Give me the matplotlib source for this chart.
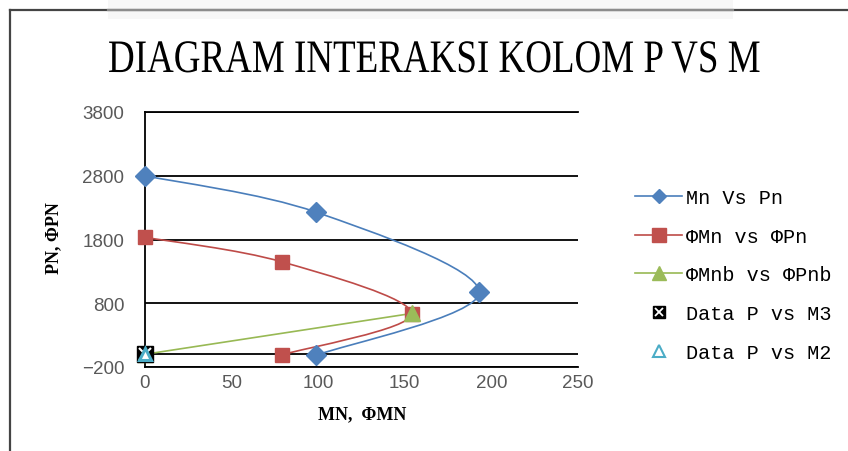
import numpy as np
import matplotlib
matplotlib.use("Agg")
import matplotlib.pyplot as plt
from matplotlib.path import Path
from matplotlib.patches import PathPatch, Rectangle
from matplotlib.lines import Line2D
from matplotlib.legend_handler import HandlerTuple
from matplotlib.transforms import Affine2D
import matplotlib.patheffects as pe

# capacity points: moment (kN-m) vs axial load (kN)
mn = [0, 99, 193, 99]
pn = [2800, 2227, 972, -15]
phi_mn = [0, 79, 154, 79]
phi_pn = [1835, 1450, 635, -10]
phi_mnb = [0, 154]
phi_pnb = [0, 640]
m3 = [0]
p3 = [0]
m2 = [0]
p2 = [0]

x_ticks = [0, 50, 100, 150, 200, 250]
y_ticks = [-200, 800, 1800, 2800, 3800]

labels = ["Mn Vs Pn", "ΦMn vs ΦPn", "ΦMnb vs ΦPnb", "Data P vs M3", "Data P vs M2"]

W, H = 848, 452


def fx(x):
    return x / W


def fy(y):
    return 1 - y / H


def smooth_path(xs, ys):
    # excel-like smoothed line: catmull-rom segments as cubic beziers
    pts = np.column_stack([xs, ys]).astype(float)
    n = len(pts)
    verts = [pts[0]]
    codes = [Path.MOVETO]
    for i in range(n - 1):
        p0 = pts[max(i - 1, 0)]
        p1 = pts[i]
        p2 = pts[i + 1]
        p3 = pts[min(i + 2, n - 1)]
        verts += [p1 + (p2 - p0) / 6, p2 - (p3 - p1) / 6, p2]
        codes += [Path.CURVE4] * 3
    return Path(verts, codes)


class Squeeze(pe.AbstractPathEffect):
    """Compress glyphs horizontally around a fixed display x."""

    def __init__(self, sx, cx):
        super().__init__()
        self.sx = sx
        self.cx = cx

    def draw_path(self, renderer, gc, tpath, affine, rgbFace=None):
        tr = affine + Affine2D().translate(-self.cx, 0).scale(self.sx, 1).translate(self.cx, 0)
        renderer.draw_path(gc, tpath, tr, rgbFace)


blue_l, blue_m = "#4a7ebb", "#4f81bd"
red_l, red_m = "#be4b48", "#c0504d"
green_l, green_m = "#98b954", "#9bbb59"
cyan = "#4bacc6"

fig = plt.figure(figsize=(W / 100, H / 100), dpi=100)
fig.patch.set_facecolor("white")

# chart area frame
fig.add_artist(Rectangle((fx(108), fy(20)), fx(733) - fx(108), fy(0) - fy(20),
                         facecolor="#f7f7f7", edgecolor="none", zorder=0))
fig.add_artist(Line2D([fx(10), fx(10)], [fy(11), fy(452)], color="#444444", lw=1.6))
fig.add_artist(Line2D([fx(10), fx(848)], [fy(11), fy(11)], color="#444444", lw=1.6))
fig.add_artist(Line2D([fx(108), fx(733)], [fy(11), fy(11)], color="#8c8c8c", lw=1.6))

ax = fig.add_axes([fx(145), fy(368), fx(578) - fx(145), fy(113) - fy(368)])
ax.set_xlim(0, 250)
ax.set_ylim(-200, 3800)
ax.set_xticks(x_ticks)
ax.set_yticks(y_ticks)
ax.tick_params(length=0, labelsize=13.5, labelcolor="#595959")
ax.tick_params(axis="y", pad=15)
ax.tick_params(axis="x", pad=5)
for lab in ax.get_xticklabels() + ax.get_yticklabels():
    lab.set_family("Liberation Sans")
ax.grid(axis="y", color="black", lw=1.3)
ax.grid(axis="x", visible=False)
ax.spines["right"].set_visible(False)
for s in ["top", "bottom", "left"]:
    ax.spines[s].set_color("black")
    ax.spines[s].set_linewidth(1.3)
ax.axhline(0, color="black", lw=1.3, zorder=1.5)

# curves
ax.add_patch(PathPatch(smooth_path(mn, pn), fill=False, edgecolor=blue_l, lw=1.2, zorder=3))
ax.plot(mn, pn, ls="none", marker="D", ms=10, color=blue_m, zorder=4, clip_on=False)
ax.add_patch(PathPatch(smooth_path(phi_mn, phi_pn), fill=False, edgecolor=red_l, lw=1.2, zorder=3))
ax.plot(phi_mn, phi_pn, ls="none", marker="s", ms=10.5, color=red_m, zorder=4, clip_on=False)
ax.plot(phi_mnb, phi_pnb, color=green_l, lw=1.2, zorder=3)
ax.plot(phi_mnb, phi_pnb, ls="none", marker="^", ms=11, color=green_m, zorder=5, clip_on=False)
ax.plot(m3, p3, ls="none", marker="s", ms=11, color="black", zorder=6, clip_on=False)
ax.plot(m3, p3, ls="none", marker="x", ms=8, mew=1.5, color="white", zorder=6.5, clip_on=False)
ax.plot(m2, p2, ls="none", marker="^", ms=9, mfc="white", mec=cyan, mew=2.2, zorder=7, clip_on=False)

# title
title = fig.text(fx(434), fy(73), "DIAGRAM INTERAKSI KOLOM P VS M", family="Liberation Serif",
                 fontsize=33.5, ha="center", va="baseline", color="black")
fig.canvas.draw()
tw = title.get_window_extent().width
title.set_path_effects([Squeeze(652 / tw, 434)])

fig.text(fx(54), fy(238), "PN, ΦPN", family="Liberation Serif", weight="bold",
         fontsize=13, rotation=90, ha="center", va="center")
fig.text(fx(362), fy(415), "MN,  ΦMN", family="Liberation Serif", weight="bold",
         fontsize=13, ha="center", va="center")

# legend
h_blue = Line2D([], [], color=blue_l, lw=1.2, marker="D", ms=7.5, mfc=blue_m, mec=blue_m)
h_red = Line2D([], [], color=red_l, lw=1.2, marker="s", ms=10, mfc=red_m, mec=red_m)
h_green = Line2D([], [], color=green_l, lw=1.2, marker="^", ms=9.5, mfc=green_m, mec=green_m)
h_m3 = (Line2D([], [], ls="none", marker="s", ms=9, color="black"),
        Line2D([], [], ls="none", marker="x", ms=6, mew=1.3, color="white"))
h_m2 = Line2D([], [], ls="none", marker="^", ms=8, mfc="white", mec=cyan, mew=1.5)
fig.legend([h_blue, h_red, h_green, h_m3, h_m2], labels,
           loc="upper left", bbox_to_anchor=(fx(635), fy(189)),
           frameon=False, borderpad=0, borderaxespad=0, handlelength=2.35,
           handletextpad=0.2, labelspacing=0.98,
           handler_map={tuple: HandlerTuple(ndivide=1)},
           prop={"family": "Liberation Mono", "size": 14.5})

fig.savefig("out.png", dpi=100)
